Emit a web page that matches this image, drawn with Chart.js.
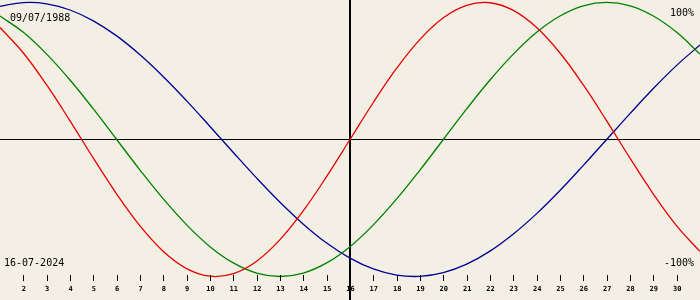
<!DOCTYPE html>
<html>
<head>
<meta charset="utf-8">
<script src="https://cdn.jsdelivr.net/npm/chart.js@4/dist/chart.umd.min.js"></script>
<style>
html,body{margin:0;padding:0;background:#f3efe4;}
#wrap{width:700px;height:300px;position:relative;}
</style>
</head>
<body>
<div id="wrap"><canvas id="c" width="700" height="300"></canvas></div>
<script>
// Days of the month (July 2024)
const days = [1,2,3,4,5,6,7,8,9,10,11,12,13,14,15,16,17,18,19,20,21,22,23,24,25,26,27,28,29,30,31];
// Physical (red)
const physical = [0.817,0.631,0.398,0.136,-0.136,-0.398,-0.631,-0.817,-0.942,-0.998,-0.979,-0.888,-0.731,-0.520,-0.270,0,0.270,0.520,0.731,0.888,0.979,0.998,0.942,0.817,0.631,0.398,0.136,-0.136,-0.398,-0.631,-0.817];
// Emotional (green)
const emotional = [0.901,0.782,0.623,0.434,0.223,0,-0.223,-0.434,-0.623,-0.782,-0.901,-0.975,-1,-0.975,-0.901,-0.782,-0.623,-0.434,-0.223,0,0.223,0.434,0.623,0.782,0.901,0.975,1,0.975,0.901,0.782,0.623];
// Intellectual (blue)
const intellectual = [0.972,0.999,0.990,0.945,0.866,0.756,0.618,0.458,0.282,0.095,-0.095,-0.282,-0.458,-0.618,-0.756,-0.866,-0.945,-0.990,-0.999,-0.972,-0.910,-0.815,-0.690,-0.541,-0.372,-0.189,0,0.189,0.372,0.541,0.690];
// Tick labels shown along the bottom
const tickLabels = [2,3,4,5,6,7,8,9,10,11,12,13,14,15,16,17,18,19,20,21,22,23,24,25,26,27,28,29,30];
const todayDay = 16;
const birthText = "09/07/1988";
const todayText = "16-07-2024";
const topText = "100%";
const bottomText = "-100%";

const toXY = arr => days.map((d,i)=>({x:d,y:arr[i]}));

const overlay = {
  id:'overlay',
  beforeDatasetsDraw(chart){
    const ctx = chart.ctx, xs = chart.scales.x, ys = chart.scales.y;
    ctx.save();
    ctx.fillStyle = '#000';
    const y0 = Math.round(ys.getPixelForValue(0));
    ctx.fillRect(0, y0, 700, 1);
    const xt = Math.round(xs.getPixelForValue(todayDay));
    ctx.fillRect(xt-1, 0, 2, 300);
    ctx.restore();
  },
  afterDatasetsDraw(chart){
    const ctx = chart.ctx, xs = chart.scales.x;
    ctx.save();
    ctx.fillStyle = '#000';
    tickLabels.forEach(t=>{
      const x = Math.round(xs.getPixelForValue(t));
      ctx.fillRect(x, 275, 1, 6);
    });
    ctx.font = 'bold 7px "DejaVu Sans Mono"';
    ctx.textAlign = 'center';
    ctx.textBaseline = 'alphabetic';
    tickLabels.forEach(t=>{
      const x = xs.getPixelForValue(t);
      ctx.fillText(String(t), x+0.5, 291);
    });
    ctx.font = '10px "DejaVu Sans Mono"';
    ctx.textAlign = 'left';
    ctx.fillText(birthText, 10, 21);
    ctx.fillText(todayText, 4, 266);
    ctx.textAlign = 'right';
    ctx.fillText(topText, 694, 16);
    ctx.fillText(bottomText, 694, 266);
    ctx.restore();
  }
};

new Chart(document.getElementById('c'), {
  type:'line',
  data:{
    datasets:[
      {label:'Physical', data:toXY(physical), borderColor:'rgb(230,0,0)', borderWidth:1.3, pointRadius:0, tension:0.4, fill:false},
      {label:'Emotional', data:toXY(emotional), borderColor:'rgb(0,128,0)', borderWidth:1.3, pointRadius:0, tension:0.4, fill:false},
      {label:'Intellectual', data:toXY(intellectual), borderColor:'rgb(0,0,150)', borderWidth:1.3, pointRadius:0, tension:0.4, fill:false}
    ]
  },
  options:{
    responsive:false,
    animation:false,
    layout:{padding:0},
    plugins:{legend:{display:false}, tooltip:{enabled:false}},
    scales:{
      x:{type:'linear', min:1, max:31, display:false},
      y:{min:-1.1715, max:1.018, display:false}
    }
  },
  plugins:[overlay]
});
</script>
</body>
</html>
